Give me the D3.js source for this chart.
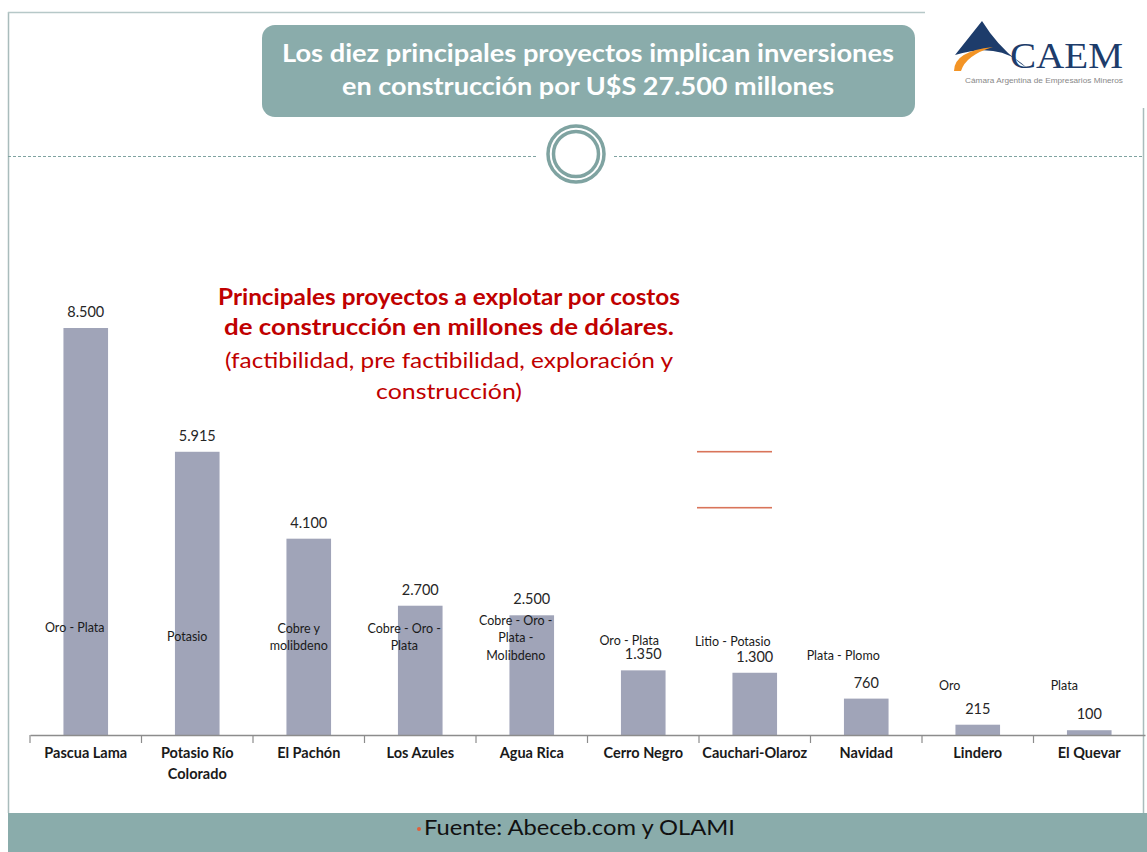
<!DOCTYPE html>
<html><head><meta charset="utf-8">
<script src="https://cdn.jsdelivr.net/npm/d3@7"></script>
<style>html,body{margin:0;padding:0;background:#fff;}svg{display:block;}</style>
</head><body>
<script>
// ---- data ----
const categories = [["Pascua Lama"],["Potasio Río","Colorado"],["El Pachón"],["Los Azules"],["Agua Rica"],["Cerro Negro"],["Cauchari-Olaroz"],["Navidad"],["Lindero"],["El Quevar"]];
const values = [8500, 5915, 4100, 2700, 2500, 1350, 1300, 760, 215, 100];
const valueLabels = ["8.500","5.915","4.100","2.700","2.500","1.350","1.300","760","215","100"];
const minerals = [["Oro - Plata"],["Potasio"],["Cobre y","molibdeno"],["Cobre - Oro -","Plata"],["Cobre - Oro -","Plata -","Molibdeno"],["Oro - Plata"],["Litio - Potasio"],["Plata - Plomo"],["Oro"],["Plata"]];
const titleLines = ["Los diez principales proyectos implican inversiones","en construcción por U$S 27.500 millones"];
const subtitleBold = ["Principales proyectos a explotar por costos","de construcción en millones de dólares."];
const subtitleNormal = ["(factibilidad, pre factibilidad, exploración y","construcción)"];
const sourceText = "Fuente: Abeceb.com y OLAMI";

// ---- layout ----
const W = 1147, H = 852;
const teal = "#8aacab";
const svg = d3.select("body").append("svg").attr("width", W).attr("height", H);

// frame lines
svg.append("line").attr("x1",8.5).attr("x2",8.5).attr("y1",12).attr("y2",813).attr("stroke","#a9bcbc").attr("stroke-width",1.5);
svg.append("line").attr("x1",8).attr("x2",925).attr("y1",12.5).attr("y2",12.5).attr("stroke","#b6c8c8").attr("stroke-width",1.5);
svg.append("line").attr("x1",1143.5).attr("x2",1143.5).attr("y1",108).attr("y2",813).attr("stroke","#a9bcbc").attr("stroke-width",1.5);

// title box
svg.append("rect").attr("x",262).attr("y",25).attr("width",653).attr("height",92).attr("rx",13).attr("fill",teal);
titleLines.forEach((t,i)=>{
  svg.append("text").attr("x",588).attr("y",62+i*33).attr("text-anchor","middle")
    .attr("font-family","Lato, sans-serif").attr("font-weight","bold").attr("font-size",25)
    .attr("fill","#fff").attr("textLength", i===0?612:492).attr("lengthAdjust","spacingAndGlyphs").text(t);
});

// logo
const logo = svg.append("g");
logo.append("path").attr("d","M955,55 L982,21 Q1000,50 1027,68 Q1000,41 955,55 Z").attr("fill","#1d3c6b");
logo.append("path").attr("d","M954,71 Q954,51 993,47 Q966,55 961,71 Z").attr("fill","#f39425");
logo.append("text").attr("x",1010).attr("y",68).attr("font-family","Liberation Serif, serif").attr("font-size",36)
  .attr("fill","#1d3c6b").attr("textLength",113).attr("lengthAdjust","spacingAndGlyphs").text("CAEM");
logo.append("text").attr("x",965).attr("y",83).attr("font-family","Liberation Sans Narrow, Liberation Sans, sans-serif").attr("font-size",7.5)
  .attr("fill","#888").attr("textLength",158).attr("lengthAdjust","spacingAndGlyphs").text("Cámara Argentina de Empresarios Mineros");

// dashed separator and circle ornament
svg.append("line").attr("x1",8).attr("x2",538).attr("y1",156.5).attr("y2",156.5).attr("stroke","#7fa3a1").attr("stroke-width",1).attr("stroke-dasharray","3,2");
svg.append("line").attr("x1",614).attr("x2",1143).attr("y1",156.5).attr("y2",156.5).attr("stroke","#7fa3a1").attr("stroke-width",1).attr("stroke-dasharray","3,2");
svg.append("circle").attr("cx",576).attr("cy",154).attr("r",28).attr("fill","#fff").attr("stroke","#7fa3a1").attr("stroke-width",3.5);
svg.append("circle").attr("cx",576).attr("cy",154).attr("r",22.5).attr("fill","none").attr("stroke","#7fa3a1").attr("stroke-width",3.5);

// scales
const baseline = 735;
const x = d3.scaleBand().domain(d3.range(values.length)).range([30,1145]).paddingInner(0.6).paddingOuter(0.3);
const y = d3.scaleLinear().domain([0, 8500]).range([baseline, 328]);

// bars
svg.append("g").selectAll("rect").data(values).join("rect")
  .attr("x",(d,i)=>x(i)).attr("width",x.bandwidth())
  .attr("y",d=>y(d)).attr("height",d=>baseline-y(d))
  .attr("fill","#a0a4b8");

// axis
const xb = d3.scaleBand().domain(d3.range(values.length)).range([30,1145]);
const axis = svg.append("g").attr("transform",`translate(0,${baseline})`)
  .call(d3.axisBottom(xb).tickSize(0).tickFormat(""));
axis.select(".domain").attr("stroke","#8c8c8c").attr("stroke-width",1.5);
axis.selectAll(".tick").remove();
const tickPos = d3.range(values.length).map(i=>xb(i));
axis.selectAll("line.tk").data(tickPos).join("line").attr("class","tk")
  .attr("x1",d=>d).attr("x2",d=>d).attr("y1",0).attr("y2",8).attr("stroke","#8c8c8c").attr("stroke-width",1.2);

// category labels
categories.forEach((lines,i)=>{
  const t = svg.append("text").attr("text-anchor","middle").attr("font-family","Lato, sans-serif")
    .attr("font-weight","bold").attr("font-size",14.5).attr("fill","#1a1a1a");
  lines.forEach((l,j)=>t.append("tspan").attr("x",x(i)+x.bandwidth()/2).attr("y",758+j*21).text(l));
});

// value labels
valueLabels.forEach((v,i)=>{
  svg.append("text").attr("x",x(i)+x.bandwidth()/2).attr("y",y(values[i])-11).attr("text-anchor","middle")
    .attr("font-family","Lato, sans-serif").attr("font-size",14.5).attr("fill","#262626").text(v);
});

// mineral labels (manual placement offsets)
const mineralDx = [-11,-10,-10,-16,-16,-14,-22,-23,-28,-25];
const mineralY0 = [627,636,628,628,620,640,641,655,685,685];
minerals.forEach((lines,i)=>{
  const t = svg.append("text").attr("text-anchor","middle").attr("font-family","Lato, sans-serif")
    .attr("font-size",12.5).attr("fill","#1a1a1a");
  lines.forEach((l,j)=>t.append("tspan").attr("x",x(i)+x.bandwidth()/2+mineralDx[i]).attr("y",mineralY0[i]+4.5+j*17.5).text(l));
});

// red subtitle
subtitleBold.forEach((s,i)=>{
  svg.append("text").attr("x",449).attr("y",305+i*30).attr("text-anchor","middle")
    .attr("font-family","Lato, sans-serif").attr("font-weight","bold").attr("font-size",22)
    .attr("fill","#c00000").attr("textLength",i===0?462:450).attr("lengthAdjust","spacingAndGlyphs").text(s);
});
subtitleNormal.forEach((s,i)=>{
  svg.append("text").attr("x",449).attr("y",368+i*31).attr("text-anchor","middle")
    .attr("font-family","Lato, sans-serif").attr("font-size",22)
    .attr("fill","#c00000").attr("textLength",i===0?448:146).attr("lengthAdjust","spacingAndGlyphs").text(s);
});

// short orange lines
[451.7, 507.7].forEach(yy=>svg.append("rect").attr("x",697).attr("width",75).attr("y",yy-0.8).attr("height",1.6).attr("fill","#d9745a"));

// footer
svg.append("rect").attr("x",8).attr("y",813).attr("width",W-8).attr("height",H-813).attr("fill",teal);
svg.append("circle").attr("cx",419).attr("cy",829).attr("r",2).attr("fill","#e0603a");
svg.append("text").attr("x",424).attr("y",835).attr("font-family","Lato, sans-serif").attr("font-size",22)
  .attr("fill","#111").attr("textLength",311).attr("lengthAdjust","spacingAndGlyphs").text(sourceText);
</script>
</body></html>
